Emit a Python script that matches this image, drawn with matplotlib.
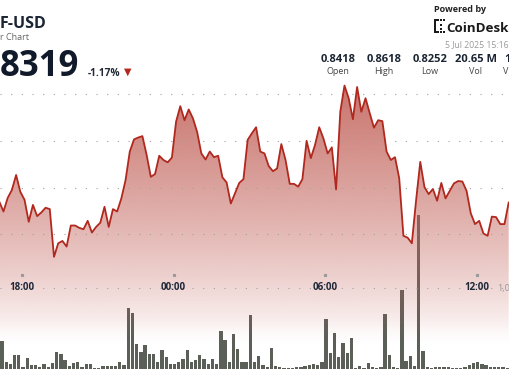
import numpy as np
import pandas as pd
import matplotlib
matplotlib.use("Agg")
import matplotlib.pyplot as plt
import matplotlib.dates as mdates
from matplotlib.patches import Rectangle

plt.rcParams['font.family'] = ['Open Sans', 'DejaVu Sans']

# 10-minute samples, starting just off the left edge
times = pd.date_range('2025-07-04 17:06', periods=122, freq='10min')

prices = [
    0.8370, 0.8349, 0.8378, 0.8395, 0.8427, 0.8391, 0.8374, 0.8327, 0.8363, 0.8339,
    0.8347, 0.8357, 0.8354, 0.8252, 0.8281, 0.8286, 0.8274, 0.8319, 0.8319, 0.8314,
    0.8311, 0.8329, 0.8304, 0.8316, 0.8325, 0.8359, 0.8316, 0.8354, 0.8349, 0.8377,
    0.8416, 0.8477, 0.8503, 0.8507, 0.8510, 0.8470, 0.8423, 0.8429, 0.8468, 0.8459,
    0.8454, 0.8464, 0.8541, 0.8574, 0.8544, 0.8567, 0.8548, 0.8519, 0.8473, 0.8460,
    0.8477, 0.8465, 0.8468, 0.8422, 0.8411, 0.8366, 0.8388, 0.8410, 0.8418, 0.8502,
    0.8516, 0.8529, 0.8477, 0.8473, 0.8446, 0.8435, 0.8441, 0.8493, 0.8459, 0.8408,
    0.8408, 0.8402, 0.8418, 0.8500, 0.8463, 0.8491, 0.8529, 0.8505, 0.8473, 0.8486,
    0.8396, 0.8562, 0.8618, 0.8591, 0.8546, 0.8615, 0.8562, 0.8591, 0.8559, 0.8528,
    0.8544, 0.8542, 0.8477, 0.8459, 0.8465, 0.8420, 0.8297, 0.8293, 0.8281, 0.8372,
    0.8455, 0.8401, 0.8386, 0.8397, 0.8372, 0.8410, 0.8377, 0.8393, 0.8409, 0.8414,
    0.8413, 0.8393, 0.8345, 0.8322, 0.8329, 0.8302, 0.8297, 0.8338, 0.8337, 0.8322,
    0.8322, 0.8368,
]

# volume per bar, thousands
volumes = [
    425, 100, 75, 205, 205, 35, 160, 55, 55, 35,
    80, 35, 85, 260, 220, 135, 45, 95, 105, 35,
    70, 70, 15, 15, 50, 50, 50, 50, 100, 60,
    915, 840, 370, 255, 360, 220, 220, 100, 290, 185,
    75, 75, 105, 150, 280, 100, 130, 205, 155, 80,
    155, 70, 575, 440, 100, 530, 305, 100, 100, 805,
    100, 195, 60, 35, 320, 50, 35, 15, 15, 20,
    30, 30, 50, 60, 80, 60, 105, 745, 245, 535,
    185, 395, 245, 470, 20, 50, 20, 85, 30, 20,
    30, 820, 205, 30, 20, 1185, 125, 200, 50, 2310,
    270, 35, 10, 30, 30, 30, 35, 8, 8, 20,
    30, 60, 85, 100, 70, 55, 35, 35, 35, 25,
    20, 20,
]

tick_times = pd.to_datetime(['2025-07-04 18:00', '2025-07-05 00:00',
                             '2025-07-05 06:00', '2025-07-05 12:00'])
tick_labels = ['18:00', '00:00', '06:00', '12:00']
grid_levels = [0.83, 0.84, 0.85, 0.86]

stat_values = ['0.8418', '0.8618', '0.8252', '20.65 M']
stat_names = ['Open', 'High', 'Low', 'Vol']

W, H = 510, 369
fig = plt.figure(figsize=(W / 100, H / 100), dpi=100)


def fx(px):
    return px / W


def fy(py):
    return 1 - py / H


# x range: 18:00 sits at 22px, 25.26px per hour
hour_px = 25.26
t18 = tick_times[0]
xmin = mdates.date2num(t18 - pd.Timedelta(hours=22 / hour_px))
xmax = mdates.date2num(t18 + pd.Timedelta(hours=(W - 22) / hour_px))
x = mdates.date2num(times)

# price scale: 0.86 at 94px, 0.01 per 46.8px
ptop = 0.86 + 94 / 4680
pbot = 0.86 - (H - 94) / 4680

# volume axes (behind)
axv = fig.add_axes([0, 0, 1, 1])
axv.set_axis_off()
bar_w = 7.8 / 1440
axv.bar(x + 2.5 / 1440, volumes, width=bar_w, align='edge',
        color='#5a5f58', linewidth=0, zorder=1)
axv.set_xlim(xmin, xmax)
axv.set_ylim(0, H * 15)

# price axes (front, transparent)
ax = fig.add_axes([0, 0, 1, 1])
ax.patch.set_alpha(0)
ax.set_axis_off()
ax.set_xlim(xmin, xmax)
ax.set_ylim(pbot, ptop)

# gradient fill under the line
poly = ax.fill_between(x, prices, pbot, color='none', linewidth=0)
ny = 400
yy = np.linspace(pbot, ptop, ny)
ypx = 94 + (0.86 - yy) * 4680
f = np.clip((330 - ypx) / 247, 0, 1)
alpha = np.where(ypx < 330, 0.05 + 0.85 * f ** 0.8, 0.05 * np.clip((345 - ypx) / 15, 0, 1))
grad = np.zeros((ny, 2, 4))
grad[:, :, 0] = 195 / 255
grad[:, :, 1] = 100 / 255
grad[:, :, 2] = 92 / 255
grad[:, :, 3] = alpha[:, None]
img = ax.imshow(grad, extent=[xmin, xmax, pbot, ptop], origin='lower',
                aspect='auto', zorder=2, interpolation='bilinear')
img.set_clip_path(poly.get_paths()[0], transform=ax.transData)
ax.set_xlim(xmin, xmax)
ax.set_ylim(pbot, ptop)

# dotted grid
dots = (0, (1, 8.6))
for lv in grid_levels:
    ax.axhline(lv, color='#a0a0a0', lw=0.8, ls=dots, zorder=3)
ax.plot([0, 1], [1 - 288 / H] * 2, transform=ax.transAxes,
        color='#a0a0a0', lw=0.8, ls=dots, zorder=3)

ax.plot(x, prices, color='#b0281e', lw=1.3, zorder=4, solid_joinstyle='round')

# time ticks and labels
trans = matplotlib.transforms.blended_transform_factory(ax.transData, ax.transAxes)
for t, lab in zip(tick_times, tick_labels):
    tx = mdates.date2num(t)
    ax.plot([tx], [1 - 274.5 / H], marker='s', ms=1.3, color='#999999',
            transform=trans, zorder=3)
    ax.text(tx, 1 - 288 / H, lab, transform=trans, ha='center', va='center',
            fontsize=7, fontweight='bold', color='#1e2838', zorder=5)
fig.text(fx(497), fy(288), '1,0', ha='left', va='center', fontsize=6.5,
         color='#999999')

# header left
fig.text(fx(0), fy(28.3), 'F-USD', ha='left', va='baseline', fontsize=11.5,
         fontweight='bold', color='#1b2433')
fig.text(fx(0), fy(40), 'r Chart', ha='left', va='baseline', fontsize=6.5,
         color='#666666')
fig.text(fx(0), fy(76), '8319', ha='left', va='baseline', fontsize=25,
         fontweight='bold', color='#111a2a')
fig.text(fx(88), fy(76), '-1.17%', ha='left', va='baseline', fontsize=7.3,
         fontweight='bold', color='#222a38')
fig.text(fx(127.5), fy(72), '\u25BC', ha='center', va='center', fontsize=7,
         color='#b5261e', family='DejaVu Sans')

# header right
fig.text(fx(434), fy(11.7), 'Powered by', ha='left', va='baseline', fontsize=6.5,
         fontweight='bold', color='#222222')
for (rx, ry, rw, rh) in [(434, 19, 2, 14), (434, 19, 5, 2), (434, 31, 5, 2),
                         (440, 19, 2, 2), (440, 31, 2, 2), (443, 19, 2, 2),
                         (443, 31, 2, 2), (440, 24, 2, 2), (440, 28, 2, 2)]:
    fig.add_artist(Rectangle((fx(rx), fy(ry + rh)), rw / W, rh / H,
                             transform=fig.transFigure, color='#1a1a1a', lw=0))
fig.text(fx(446.5), fy(31.7), 'CoinDesk', ha='left', va='baseline', fontsize=9.6,
         fontweight='bold', color='#1a1a1a')
fig.text(fx(509), fy(46.7), '5 Jul 2025 15:16', ha='right', va='baseline',
         fontsize=6.2, color='#999999')

for cx, val, name in zip([338, 384, 430, 476], stat_values, stat_names):
    fig.text(fx(cx), fy(61.7), val, ha='center', va='baseline', fontsize=8,
             fontweight='bold', color='#1b2433')
    fig.text(fx(cx), fy(74), name, ha='center', va='baseline', fontsize=6.5,
             color='#444444')
fig.text(fx(504), fy(61.7), '1', ha='left', va='baseline', fontsize=8,
         fontweight='bold', color='#1b2433')
fig.text(fx(503), fy(74), 'V', ha='left', va='baseline', fontsize=6.5,
         color='#444444')

fig.savefig('out.png', dpi=100)
